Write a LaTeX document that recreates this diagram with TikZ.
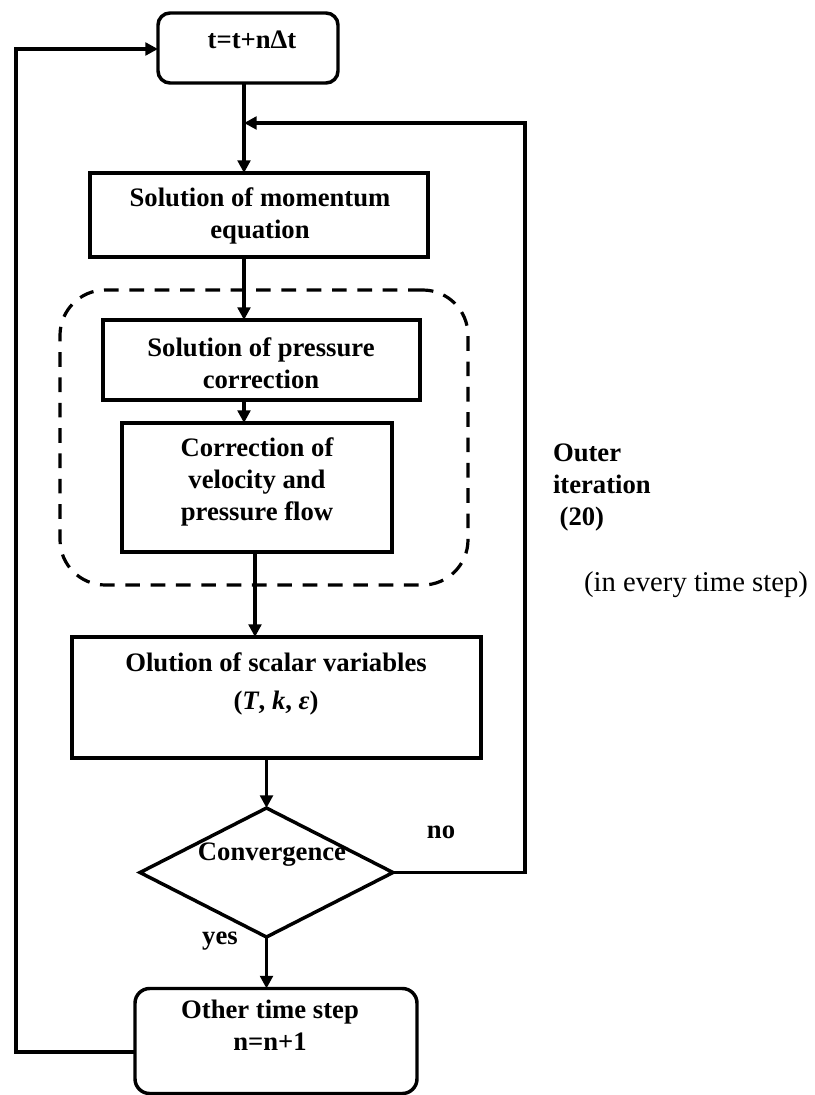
\documentclass[tikz,border=0pt]{standalone}
\usepackage{fontspec}
\setmainfont{Liberation Serif}
\usetikzlibrary{arrows.meta,shapes.geometric}
\begin{document}
\begin{tikzpicture}[x=0.75pt,y=-0.75pt,
  every node/.style={inner sep=0pt,outer sep=0pt},
  stepbox/.style={draw,line width=3.6pt,rectangle},
  roundbox/.style={draw,line width=2.6pt,rectangle,rounded corners=9pt},
  decision/.style={draw,line width=2.6pt,diamond},
  groupbox/.style={draw,line width=2.4pt,rectangle,rounded corners=34pt,dash pattern=on 11pt off 8pt},
  txt/.style={font=\fontsize{20}{24}\selectfont\bfseries,align=center},
  note/.style={font=\fontsize{21.5}{26}\selectfont},
  flow/.style={line width=2.6pt,-{Triangle[length=9.5pt,width=9.5pt]}},
  line join=miter]
\useasboundingbox (0,0) rectangle (814,1095);

% process boxes
\node[roundbox,minimum width=135pt,minimum height=52.5pt] (top) at (248,48) {};
\node[stepbox,line width=3pt,minimum width=253.5pt,minimum height=63pt] (mom) at (259,215) {};
\node[groupbox,minimum width=306pt,minimum height=221.25pt] (grp) at (264,437.5) {};
\node[stepbox,minimum width=237.75pt,minimum height=60pt] (pres) at (261.5,360) {};
\node[stepbox,minimum width=202.5pt,minimum height=96.75pt] (corr) at (257,487.5) {};
\node[stepbox,minimum width=306.75pt,minimum height=90.75pt] (scal) at (276.5,697.5) {};
\node[decision,minimum width=189.75pt,minimum height=96.75pt] (conv) at (266.5,872.5) {};
\node[roundbox,rounded corners=11pt,minimum width=211.5pt,minimum height=78.75pt] (bot) at (276,1041) {};

% labels
\node[txt] (ttop) at (252,40) {t=t+nΔt};
\node[txt] (tmom) at (260,216) {Solution of momentum\\equation};
\node[txt] (tpres) at (261,363) {Solution of pressure\\correction};
\node[txt] (tcorr) at (257,482) {Correction of\\velocity and\\pressure flow};
\node[txt] (tscal) at (276,684) {Olution of scalar variables\\[4pt](\textit{T}, \textit{k}, \textit{ε})};
\node[txt] (tconv) at (272,855) {Convergence};
\node[txt] (tbot) at (270,1025) {Other time step\\n=n+1};
\node[txt] (tno) at (441,832) {no};
\node[txt] (tyes) at (220,941) {yes};
\node[txt,align=left,anchor=west] (touter) at (553,487.5) {Outer\\iteration\\\ (20)};
\node[note] (tevery) at (696,585) {(in every time step)};

% routing points
\coordinate (j) at (244,123);
\coordinate (rc) at (525,123);
\coordinate (lb) at (16,1052);
\coordinate (lt) at (16,49);

% connectors
\draw[flow] (top.south -| j) -- (mom.north -| j);
\draw[flow] (conv.east) -| (rc) -- (j);
\draw[flow] (mom.south -| j) -- (pres.north -| j);
\draw[flow] (pres.south -| j) -- (corr.north -| j);
\draw[flow] (corr.south -| 255,0) -- (scal.north -| 255,0);
\draw[flow] (conv.north |- scal.south) -- (conv.north);
\draw[flow] (conv.south) -- (bot.north -| conv.south);
\draw[flow] (bot.west |- lb) -- (lb) -- (lt) -- (top.west |- lt);
\end{tikzpicture}
\end{document}
